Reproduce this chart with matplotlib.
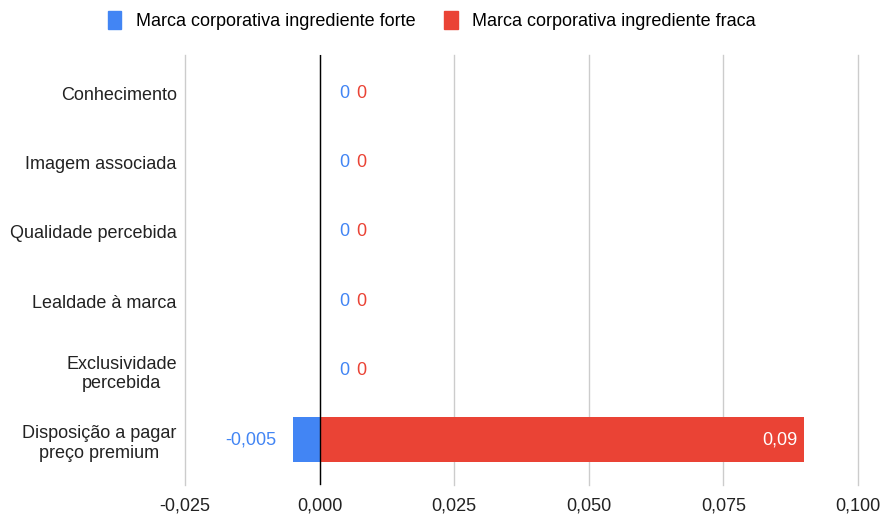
import matplotlib
matplotlib.use("Agg")
from matplotlib import pyplot as plt
from matplotlib.patches import Patch
import numpy as np

plt.rcParams['font.family'] = ['Liberation Sans', 'DejaVu Sans']

categories = ['Conhecimento', 'Imagem associada', 'Qualidade percebida',
              'Lealdade à marca', 'Exclusividade\npercebida',
              'Disposição a pagar\npreço premium']
forte = [0, 0, 0, 0, 0, -0.005]
fraca = [0, 0, 0, 0, 0, 0.09]
series_names = ['Marca corporativa ingrediente forte',
                'Marca corporativa ingrediente fraca']
xticks = [-0.025, 0.0, 0.025, 0.05, 0.075, 0.1]

blue = '#4285f4'
red = '#ea4335'
fs = 13

def fmt(v):
    return ('%g' % v).replace('.', ',')

fig = plt.figure(figsize=(8.85, 5.19), dpi=100)
ax = fig.add_axes([185/885, 34/519, (858-185)/885, (485-55)/519])

y = np.arange(len(categories))
h = 0.65
ax.barh(y, forte, height=h, color=blue, zorder=3)
ax.barh(y, fraca, height=h, left=0, color=red, zorder=3)

for yi, a, b in zip(y, forte, fraca):
    if a == 0 and b == 0:
        ax.annotate('0', (0, yi), xytext=(14.4, 0), textcoords='offset points',
                    ha='left', va='center', color=blue, fontsize=fs)
        ax.annotate('0', (0, yi), xytext=(26.6, 0), textcoords='offset points',
                    ha='left', va='center', color=red, fontsize=fs)
    else:
        ax.annotate(fmt(a), (a, yi), xytext=(-12, 0), textcoords='offset points',
                    ha='right', va='center', color=blue, fontsize=fs)
        ax.annotate(fmt(b), (b, yi), xytext=(-5, 0), textcoords='offset points',
                    ha='right', va='center', color='white', fontsize=fs)

ax.set_xlim(-0.025, 0.1)
ax.set_ylim(len(categories) - 0.5 + 0.15, -0.5 - 0.05)
ax.set_xticks(xticks)
ax.set_xticklabels([('%.3f' % t).replace('.', ',') for t in xticks])
ax.set_yticks(y)
ax.set_yticklabels(categories, multialignment='center')
ax.tick_params(axis='both', length=0, labelsize=fs, colors='#222222')
ax.tick_params(axis='x', pad=9)
ax.tick_params(axis='y', pad=6)
for t in xticks:
    ax.axvline(t, color='#cccccc', linewidth=1, zorder=0, clip_on=False)
ax.axvline(0, color='#000000', linewidth=1, zorder=4)
for s in ax.spines.values():
    s.set_visible(False)

handles = [Patch(color=blue), Patch(color=red)]
fig.legend(handles, series_names, loc='upper center', bbox_to_anchor=(0.488, 1.01),
           ncol=2, frameon=False, fontsize=fs, handlelength=0.75,
           handleheight=1.15, handletextpad=0.8, columnspacing=1.6)

fig.savefig('out.png', dpi=100)
